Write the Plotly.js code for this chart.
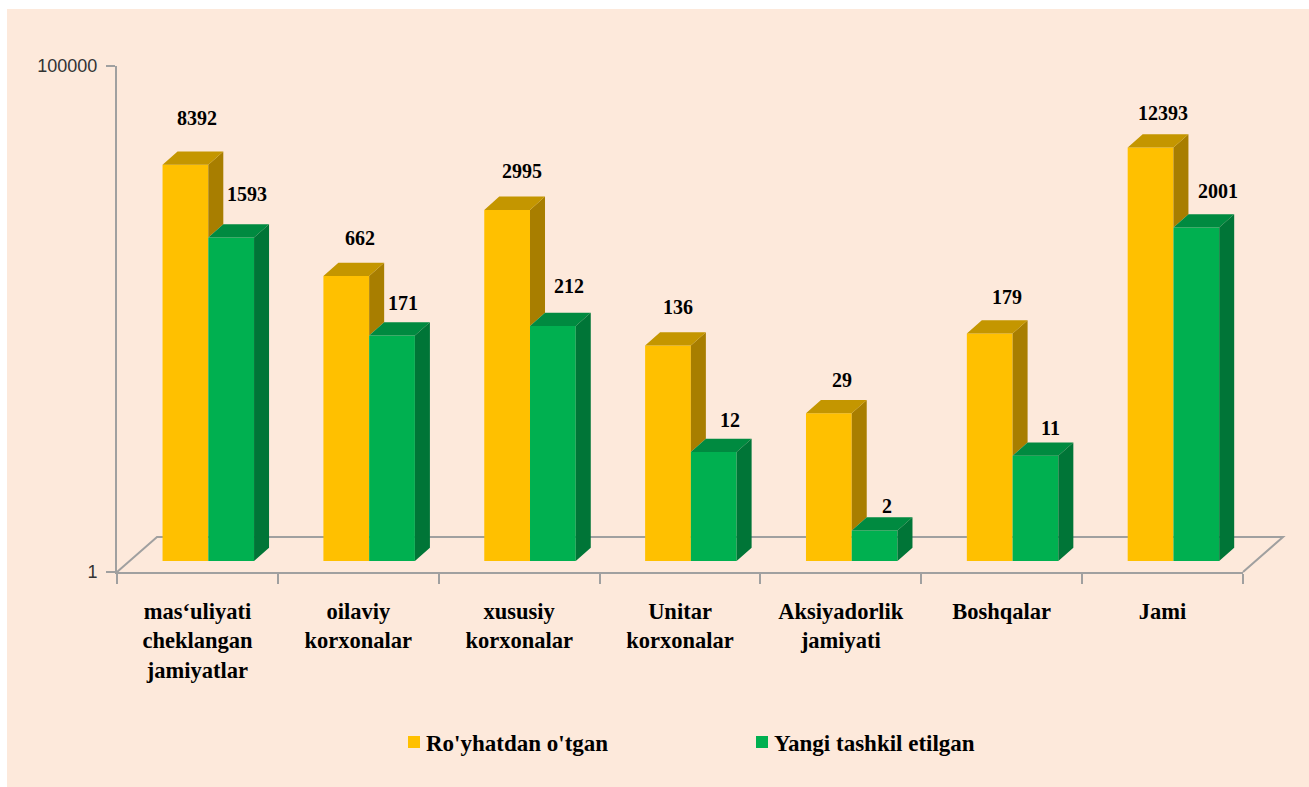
<!DOCTYPE html>
<html><head><meta charset="utf-8">
<script src="https://cdn.plot.ly/plotly-3.0.1.min.js"></script>
<style>html,body{margin:0;padding:0;background:#fff}#c{width:1309px;height:787px}</style>
</head><body><div id="c"></div>
<script>
const categories = ["mas‘uliyati<br>cheklangan<br>jamiyatlar","oilaviy<br>korxonalar","xususiy<br>korxonalar","Unitar<br>korxonalar","Aksiyadorlik<br>jamiyati","Boshqalar","Jami"];
const registered = [8392,662,2995,136,29,179,12393];
const created = [1593,171,212,12,2,11,2001];
const registeredName = "Ro'yhatdan o'tgan";
const createdName = "Yangi tashkil etilgan";
const regLabelDx = [12,14,15,10,13,17,12];
const regLabelDy = [47,38,39,39,33,36,35];
const creLabelDx = [16,11,16,16,12,15,22];
const creLabelDy = [44,32,40,32,25,28,37];

const W=1309,H=787,L=117,R=1243,T=66,B=572;
const pw=R-L, ph=B-T, catPx=pw/7, decade=101, basePx=561, depthX=15, depthY=13.3;
const firstCenter=208.3;
const x2min=(L-firstCenter)/catPx, y2max=(basePx-T)/decade;
const barW=91.5/catPx/2, dx=depthX/catPx, k=Math.pow(10,depthY/decade);
const px=x=>(x-L)/pw, py=y=>(B-y)/ph;
const serif="Liberation Serif, Times New Roman, serif";
const COL={y:"#FFC000",ys:"#A87E00",yt:"#C49600",g:"#00B050",gs:"#007537",gt:"#008A40"};

function poly(list){const X=[],Y=[];list.forEach(p=>{p.forEach(q=>{X.push(q[0]);Y.push(q[1]);});X.push(null);Y.push(null);});return {X,Y};}
function face(list,color){const p=poly(list);return {type:"scatter",x:p.X,y:p.Y,xaxis:"x2",yaxis:"y2",mode:"lines",fill:"toself",fillcolor:color,line:{width:0,color:color},hoverinfo:"skip",showlegend:false};}

const idx=categories.map((_,i)=>i);
const yellowSide=face(idx.map(i=>{const x=i;return [[x,registered[i]],[x+dx,registered[i]*k],[x+dx,created[i]*k],[x,created[i]]];}),COL.ys);
const yellowTop=face(idx.map(i=>{const a=i-barW,b=i;return [[a,registered[i]],[a+dx,registered[i]*k],[b+dx,registered[i]*k],[b,registered[i]]];}),COL.yt);
const greenTop=face(idx.map(i=>{const a=i,b=i+barW;return [[a,created[i]],[a+dx,created[i]*k],[b+dx,created[i]*k],[b,created[i]]];}),COL.gt);
const greenSide=face(idx.map(i=>{const x=i+barW;return [[x,created[i]],[x+dx,created[i]*k],[x+dx,k],[x,1]];}),COL.gs);

const data=[
 {type:"scatter",x:categories,y:registered,mode:"none",hoverinfo:"skip",showlegend:false},
 {type:"bar",name:registeredName,x:idx,y:registered,xaxis:"x2",yaxis:"y2",marker:{color:COL.y,line:{width:0}},hoverinfo:"y"},
 {type:"bar",name:createdName,x:idx,y:created,xaxis:"x2",yaxis:"y2",marker:{color:COL.g,line:{width:0}},hoverinfo:"y"},
 yellowSide,yellowTop,greenTop,greenSide
];

const ann=[];
idx.forEach(i=>{
 ann.push({xref:"x2",yref:"y2",x:i-barW/2,y:Math.log10(registered[i]),text:String(registered[i]),showarrow:false,xanchor:"center",yanchor:"middle",xshift:regLabelDx[i],yshift:regLabelDy[i],font:{family:serif,size:20,color:"#000",weight:700}});
 ann.push({xref:"x2",yref:"y2",x:i+barW/2,y:Math.log10(created[i]),text:String(created[i]),showarrow:false,xanchor:"center",yanchor:"middle",xshift:creLabelDx[i],yshift:creLabelDy[i],font:{family:serif,size:20,color:"#000",weight:700}});
});

const layout={
 width:W,height:H,margin:{l:L,r:W-R,t:T,b:H-B,pad:0},
 paper_bgcolor:"#FFFFFF",plot_bgcolor:"rgba(0,0,0,0)",
 barmode:"group",bargap:1-91.5/catPx,bargroupgap:0,
 xaxis:{type:"category",categoryorder:"array",categoryarray:categories,range:[-0.5,6.5],tickson:"boundaries",ticks:"outside",ticklen:10,tickwidth:2,tickcolor:"#A0A0A0",showline:true,linecolor:"#A0A0A0",linewidth:2,showgrid:false,zeroline:false,tickfont:{family:serif,size:22.5,color:"#000",weight:700},tickangle:0,ticklabelstandoff:18,automargin:false,fixedrange:true},
 yaxis:{type:"log",range:[0,5],tickvals:[1,100000],ticktext:["1","100000"],ticks:"outside",ticklen:9,tickwidth:2,tickcolor:"#A0A0A0",showline:true,linecolor:"#A0A0A0",linewidth:2,showgrid:false,zeroline:false,tickfont:{family:"Liberation Sans, Arial, sans-serif",size:18,color:"#333"},ticklabelstandoff:5,automargin:false,fixedrange:true},
 xaxis2:{anchor:"y2",type:"linear",domain:[0,1],range:[x2min,x2min+7],visible:false,fixedrange:true},
 yaxis2:{anchor:"x2",type:"log",domain:[(B-basePx)/ph,1],range:[0,y2max],visible:false,fixedrange:true},
 showlegend:true,
 legend:{orientation:"h",xref:"container",yref:"container",x:386/W,xanchor:"left",y:1-(742/H),yanchor:"middle",entrywidth:303,entrywidthmode:"pixels",bgcolor:"rgba(0,0,0,0)",font:{family:serif,size:23,color:"#000",weight:700},traceorder:"normal"},
 annotations:ann,
 shapes:[
  {type:"rect",xref:"paper",yref:"paper",x0:px(7),x1:px(W),y0:py(9),y1:py(H),fillcolor:"#FDE9DB",line:{width:0},layer:"below"},
  {type:"path",xref:"paper",yref:"paper",layer:"below",line:{color:"#A0A0A0",width:2},
   path:`M${px(L)},${py(B)} L${px(157)},${py(537)} L${px(1283)},${py(537)} L${px(R)},${py(B)}`}
 ]
};
Plotly.newPlot("c",data,layout,{displayModeBar:false,responsive:false}).then(gd=>{
 gd.querySelectorAll(".legend .legendsymbols").forEach(s=>s.setAttribute("transform","translate(8,0)"));
});
</script></body></html>
